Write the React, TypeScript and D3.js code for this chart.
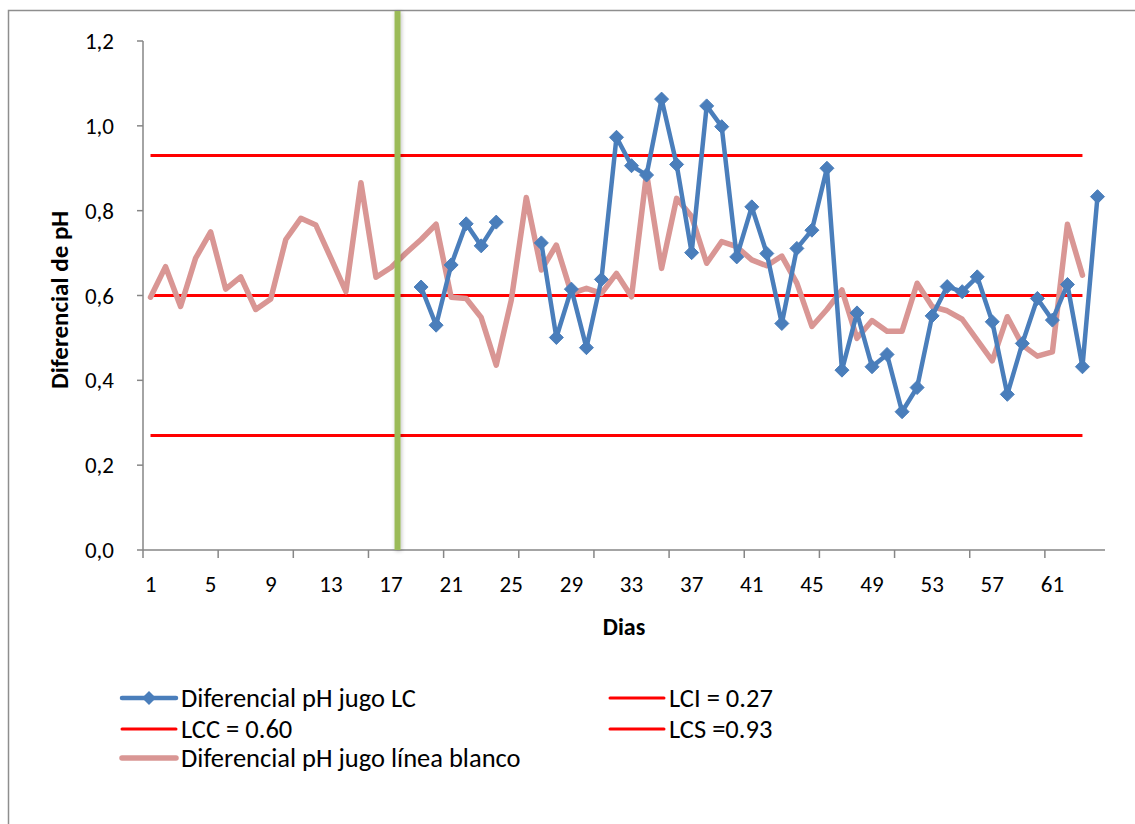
import React from "react";
import * as d3 from "d3";

// Days on the category axis
const days: number[] = d3.range(1, 65);

// Differential pH of juice, LC line (days 19–64; days 25–26 not recorded)
const lcDays: number[] = [19, 20, 21, 22, 23, 24, 25, 26, 27, 28, 29, 30, 31, 32, 33, 34, 35, 36, 37, 38, 39, 40, 41, 42, 43, 44, 45, 46, 47, 48, 49, 50, 51, 52, 53, 54, 55, 56, 57, 58, 59, 60, 61, 62, 63, 64];
const lcValues: (number | null)[] = [0.62, 0.53, 0.672, 0.769, 0.717, 0.773, null, null, 0.724, 0.501, 0.615, 0.477, 0.638, 0.973, 0.906, 0.884, 1.063, 0.909, 0.701, 1.047, 0.998, 0.691, 0.809, 0.699, 0.534, 0.711, 0.754, 0.9, 0.424, 0.559, 0.432, 0.461, 0.326, 0.383, 0.552, 0.621, 0.609, 0.644, 0.538, 0.367, 0.487, 0.593, 0.542, 0.626, 0.432, 0.833];

// Differential pH of juice, blank line (days 1–63)
const blankValues: number[] = [0.596, 0.668, 0.574, 0.688, 0.75, 0.615, 0.644, 0.567, 0.592, 0.732, 0.782, 0.766, 0.688, 0.609, 0.866, 0.643, 0.666, 0.7, 0.732, 0.768, 0.596, 0.593, 0.548, 0.436, 0.589, 0.831, 0.66, 0.719, 0.605, 0.617, 0.605, 0.652, 0.597, 0.888, 0.664, 0.829, 0.786, 0.676, 0.727, 0.715, 0.684, 0.67, 0.693, 0.629, 0.527, 0.567, 0.613, 0.499, 0.541, 0.516, 0.516, 0.629, 0.574, 0.564, 0.544, 0.495, 0.446, 0.55, 0.483, 0.457, 0.467, 0.768, 0.648];

// Control limits, drawn over days 1–63
const limitNames: string[] = ["LCI = 0.27", "LCC = 0.60", "LCS =0.93"];
const limitValues: number[] = [0.27, 0.6, 0.93];
const limitFirstDay = 1;
const limitLastDay = 63;

// Day on which the LC line starts (marker line drawn before it)
const startDay = 18;

const yTicks: number[] = [0, 0.2, 0.4, 0.6, 0.8, 1.0, 1.2];
const xLabelDays: number[] = d3.range(1, 62, 4);
const xTickEvery = 5;

const BLUE = "#4A7EBB";
const PINK = "#D99694";
const RED = "#FF0000";
const GREEN = "#9BBB59";
const AXIS = "#868686";
const FONT = "Carlito, Calibri, Lato, 'Open Sans', sans-serif";

export default function App() {
  const W = 1135;
  const H = 824;
  const left = 143;
  const right = 1105;
  const top = 41;
  const bottom = 550;

  const x = d3.scaleBand<number>().domain(days).range([left, right]).padding(0);
  const bw = x.bandwidth();
  const cx = (d: number) => (x(d) as number) + bw / 2;
  const y = d3.scaleLinear().domain([0, 1.2]).range([bottom, top]);
  const fmt = (v: number) => d3.format(".1f")(v).replace(".", ",");

  const lcLine = d3
    .line<number>()
    .defined((_, i) => lcValues[i] != null)
    .x((d) => cx(d))
    .y((_, i) => y(lcValues[i] as number));

  const blankPath = d3
    .line<number>()
    .x((_, i) => cx(i + 1))
    .y((d) => y(d))(blankValues);

  const tickBoundaries = d3.range(0, 61, xTickEvery);

  const diamond = (px: number, py: number, r: number) =>
    `M${px},${py - r}L${px + r},${py}L${px},${py + r}L${px - r},${py}Z`;

  // Legend layout
  const legendRows = [698, 729, 758];
  const legendCols = [122, 610];
  const swatchW = 54;
  const legendItems = [
    { label: "Diferencial pH jugo LC", color: BLUE, width: 4.5, marker: true, col: 0, row: 0 },
    { label: limitNames[0], color: RED, width: 3, marker: false, col: 1, row: 0 },
    { label: limitNames[1], color: RED, width: 3, marker: false, col: 0, row: 1 },
    { label: limitNames[2], color: RED, width: 3, marker: false, col: 1, row: 1 },
    { label: "Diferencial pH jugo línea blanco", color: PINK, width: 5.5, marker: false, col: 0, row: 2 },
  ];

  const startX = (x(startDay) as number) - 1;

  return (
    <svg
      width={W}
      height={H}
      style={{ position: "absolute", left: 0, top: 0, background: "#fff" }}
      fontFamily={FONT}
    >
      <defs>
        <filter id="shade" x="-100%" y="-5%" width="300%" height="110%">
          <feGaussianBlur in="SourceAlpha" stdDeviation="2" />
          <feOffset dx="1" dy="1" />
          <feComponentTransfer>
            <feFuncA type="linear" slope="0.25" />
          </feComponentTransfer>
          <feMerge>
            <feMergeNode />
            <feMergeNode in="SourceGraphic" />
          </feMerge>
        </filter>
      </defs>

      {/* chart frame */}
      <rect x={8.5} y={10.5} width={1200} height={900} fill="none" stroke="#8E8E8E" strokeWidth={1.5} />

      {/* y axis */}
      <line x1={left} x2={left} y1={top} y2={bottom} stroke={AXIS} strokeWidth={1.5} />
      {yTicks.map((t) => (
        <g key={t}>
          <line x1={left - 6} x2={left} y1={y(t)} y2={y(t)} stroke={AXIS} strokeWidth={1.5} />
          <text x={114} y={y(t)} dy="0.35em" textAnchor="end" fontSize={23} fill="#000">
            {fmt(t)}
          </text>
        </g>
      ))}
      <text
        transform={`translate(68,300) rotate(-90)`}
        textAnchor="middle"
        fontSize={25}
        fontWeight="bold"
        fill="#000"
      >
        Diferencial de pH
      </text>

      {/* x axis */}
      <line x1={left} x2={right} y1={bottom} y2={bottom} stroke={AXIS} strokeWidth={1.5} />
      {tickBoundaries.map((k) => (
        <line key={k} x1={left + k * bw} x2={left + k * bw} y1={bottom} y2={bottom + 8} stroke={AXIS} strokeWidth={1.5} />
      ))}
      {xLabelDays.map((d) => (
        <text key={d} x={cx(d)} y={584} dy="0.35em" textAnchor="middle" fontSize={23} fill="#000">
          {d}
        </text>
      ))}
      <text x={624} y={627} dy="0.35em" textAnchor="middle" fontSize={24} fontWeight="bold" fill="#000">
        Dias
      </text>

      {/* control limits */}
      {limitValues.map((v) => (
        <line key={v} x1={cx(limitFirstDay)} x2={cx(limitLastDay)} y1={y(v)} y2={y(v)} stroke={RED} strokeWidth={3} />
      ))}

      {/* blank line series */}
      <path d={blankPath || ""} fill="none" stroke={PINK} strokeWidth={5.5} strokeLinejoin="round" strokeLinecap="round" />

      {/* LC series */}
      <path d={lcLine(lcDays) || ""} fill="none" stroke={BLUE} strokeWidth={4.5} strokeLinejoin="round" strokeLinecap="round" />
      {lcDays.map((d, i) =>
        lcValues[i] == null ? null : (
          <path key={d} d={diamond(cx(d), y(lcValues[i] as number), 7)} fill={BLUE} stroke={BLUE} strokeWidth={1} />
        )
      )}

      {/* start marker */}
      <rect x={startX - 3} y={11} width={6} height={bottom - 11} fill={GREEN} filter="url(#shade)" />

      {/* legend */}
      {legendItems.map((it) => {
        const lx = legendCols[it.col];
        const ly = legendRows[it.row];
        return (
          <g key={it.label}>
            <line x1={lx} x2={lx + swatchW} y1={ly} y2={ly} stroke={it.color} strokeWidth={it.width} strokeLinecap="round" />
            {it.marker && <path d={diamond(lx + swatchW / 2, ly, 7)} fill={it.color} />}
            <text x={lx + swatchW + 5} y={ly} dy="0.35em" fontSize={26.5} fill="#000">
              {it.label}
            </text>
          </g>
        );
      })}
    </svg>
  );
}
